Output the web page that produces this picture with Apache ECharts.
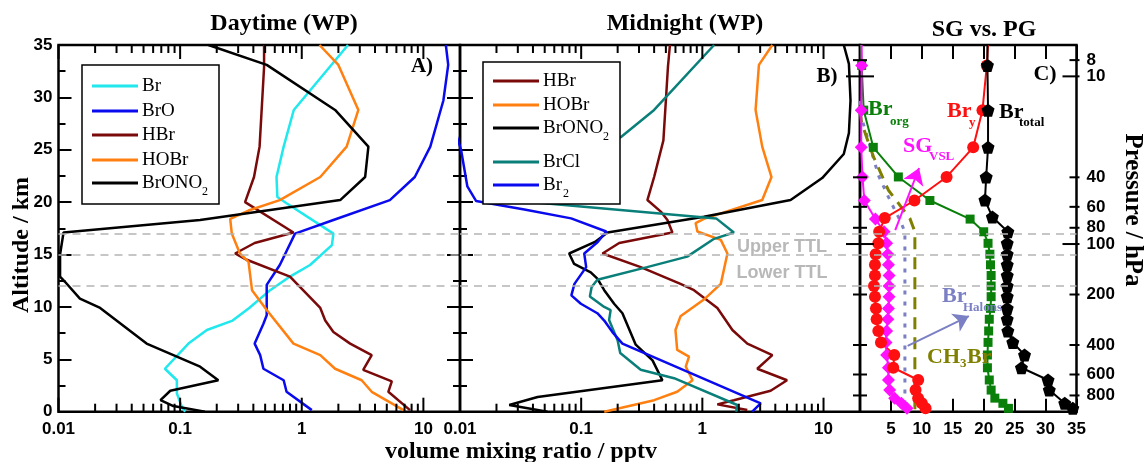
<!DOCTYPE html>
<html><head><meta charset="utf-8">
<script src="https://cdn.jsdelivr.net/npm/echarts@6/dist/echarts.min.js"></script>
<style>html,body{margin:0;padding:0;background:#fff}#c{width:1144px;height:462px}</style>
</head><body><div id="c"></div>
<script>
// ---------- Panel A: Daytime (WP)  [value pptv, altitude km] ----------
const dayBr = [[2.4,35],[0.86,28.8],[0.71,25.3],[0.62,22.4],[0.63,20.5],[0.75,19.9],[1.82,17.0],[1.77,15.9],[1.17,14.0],[0.80,12.9],[0.55,11.6],[0.37,9.9],[0.27,8.7],[0.166,7.8],[0.117,6.5],[0.075,4.1],[0.094,3.0],[0.094,1.75],[0.103,0.5],[0.11,0]];
const dayBrO = [[15.3,35],[16,33.1],[14.6,29.7],[11.4,25.3],[8.5,22.4],[5.3,20.2],[1.82,18.3],[0.88,17.0],[0.66,14.0],[0.515,12.1],[0.515,9.2],[0.484,8.4],[0.41,6.5],[0.455,5.4],[0.484,4.1],[0.71,3.0],[0.75,1.9],[1.21,0.15]];
const dayHBr = [[0.49,35],[0.49,32.9],[0.45,25.3],[0.405,22.4],[0.342,20.0],[0.855,17.1],[0.41,16.1],[0.283,15.1],[0.353,14.5],[0.80,12.9],[1.42,9.9],[1.56,8.7],[1.82,7.6],[2.5,6.5],[3.76,5.4],[3.2,4.0],[5.5,2.9],[5.15,1.9],[7.76,0.15]];
const dayHOBr = [[1.4,35],[2.0,33.1],[2.92,28.8],[2.34,25.3],[1.42,22.4],[0.66,20.2],[0.365,19.2],[0.258,18.4],[0.266,17.0],[0.31,15.1],[0.365,14.3],[0.39,11.6],[0.515,9.7],[0.855,6.5],[1.42,5.4],[1.88,4.1],[3.11,3.0],[3.76,1.9],[6.86,0.15]];
const dayBrONO2 = [[0.171,35],[0.515,33.1],[1.88,28.8],[3.53,25.3],[3.32,22.4],[2.07,20.2],[0.146,18.3],[0.011,17.1],[0.0103,15],[0.0103,12.9],[0.0113,12.4],[0.015,10.8],[0.022,9.9],[0.053,6.5],[0.146,4.3],[0.206,3.0],[0.083,2.0],[0.069,1.1],[0.088,0.54],[0.16,0]];

// ---------- Panel B: Midnight (WP) ----------
const nightHBr = [[0.54,35],[0.52,32.9],[0.50,29.7],[0.477,25.9],[0.40,22.4],[0.352,20.2],[0.454,19.1],[0.515,18.3],[0.566,17.1],[0.206,16.1],[0.15,15.1],[0.31,13.8],[0.66,12.2],[0.853,11.6],[1.33,9.9],[1.77,7.8],[2.35,6.5],[3.78,5.4],[2.84,4.1],[5.0,3.0],[3.66,2.0],[1.82,1.1],[1.33,0.7],[2.35,0.16]];
const nightHOBr = [[3.78,35],[2.93,33.1],[2.75,28.8],[3.12,25.3],[3.72,22.4],[3.12,20.2],[1.03,18.4],[0.88,18.0],[0.91,17.2],[1.42,16.4],[1.61,15.1],[1.42,12.2],[1.03,10.7],[0.66,9.1],[0.60,7.8],[0.62,5.9],[0.776,5.25],[0.73,4.3],[0.83,3.0],[0.62,1.9],[0.40,1.1],[0.155,0]];
const nightBrONO2 = [[14.7,35],[16.2,33.2],[16.7,29.7],[16.2,26.6],[14.7,24.6],[9.75,22.3],[5.35,20.2],[1.03,18.6],[0.165,17.1],[0.13,16.2],[0.0796,15.1],[0.0875,14.1],[0.12,13.3],[0.136,12.7],[0.155,11.6],[0.187,10.3],[0.219,9.4],[0.282,6.4],[0.388,4.9],[0.468,3.0],[0.0437,1.4],[0.0255,0.64],[0.0528,0]];
const nightBrCl = [[1.25,35],[0.40,28.8],[0.212,26.2],[0.02,20.3],[1.3,18.45],[1.82,17.1],[1.25,16.5],[0.75,14.8],[0.35,13.8],[0.136,12.6],[0.122,11.9],[0.118,11.0],[0.155,10.0],[0.175,9.7],[0.17,8.75],[0.2,6.8],[0.21,5.6],[0.31,4.0],[0.584,3.2],[1.94,0.64],[1.9,0]];
const nightBr2 = [[0.009,27],[0.0102,25],[0.0115,21.5],[0.0136,20.1],[0.0155,20.0],[0.034,19.3],[0.0826,18.45],[0.161,17.2],[0.137,16.2],[0.106,15.1],[0.11,13.8],[0.088,12.2],[0.083,11.1],[0.0994,10.3],[0.136,9.4],[0.155,8.7],[0.181,7.6],[0.219,6.5],[3.03,0.8],[2.58,0]];

// ---------- Panel C: SG vs. PG  [value pptv, pressure hPa] ----------
const brTotal = [[20.6,6.5],[20.6,8.6],[20.7,15.9],[20.7,26.5],[20.4,39.8],[20.2,54.7],[21.4,69],[23.9,84.5],[23.8,99],[23.8,115],[23.8,133],[23.8,154],[23.8,178],[23.8,206],[23.8,242],[23.8,281],[23.9,330],[24.7,386],[26.6,459],[26.1,547],[30.4,647],[30.6,743],[33.1,891],[34.4,955]];
const brY = [[20.7,6.5],[20.5,8.6],[19.8,15.9],[18.3,26.5],[14.0,39.8],[8.8,55],[4.0,70],[3.1,84.5],[2.96,99],[2.53,115],[2.42,133],[2.42,154],[2.26,178],[2.42,206],[2.58,242],[2.69,281],[2.96,330],[3.39,386],[5.54,459],[5.38,547],[9.41,647],[8.98,743],[9.4,830],[10.0,891],[10.6,955]];
const brOrg = [[0.15,6.5],[0.27,8.6],[0.6,15.9],[2.15,26.5],[6.2,39.8],[11.3,55],[17.8,71],[20.0,84.5],[20.7,99],[21.0,115],[21.1,133],[21.2,154],[21.2,178],[21.2,206],[21.1,242],[20.9,281],[20.8,330],[20.7,386],[20.6,459],[20.6,547],[20.9,647],[21.2,743],[21.8,830],[23.1,891],[24.0,955]];
const sgVSL = [[0.27,6.5],[0.27,8.6],[0.2,15.9],[0.2,26.5],[0.4,39.8],[0.7,55],[2.5,71],[3.9,84.5],[4.3,99],[4.5,115],[4.6,133],[4.7,154],[4.7,178],[4.7,206],[4.6,242],[4.5,281],[4.3,330],[4.2,386],[4.3,459],[4.6,547],[4.6,647],[4.8,743],[5.6,830],[6.7,891],[7.6,955]];
const brHalons = [[0,14],[0.27,17.8],[1.34,24],[2.96,38.8],[4.57,52.2],[6.45,72],[7.26,84.5],[7.26,1000]];
const ch3Br = [[0,16],[0.27,19],[2.15,30],[4.57,47.6],[8.06,70.3],[8.87,84.5],[8.87,1000]];

// ---------- ticks / reference levels ----------
const altTickLabels = [0,5,10,15,20,25,30,35];
const logTicks = [0.01,0.02,0.03,0.04,0.05,0.06,0.07,0.08,0.09,0.1,0.2,0.3,0.4,0.5,0.6,0.7,0.8,0.9,1,2,3,4,5,6,7,8,9,10];
const pressureTicks = [8,10,40,60,80,100,200,400,600,800];
const ttlAltitudes = [17,15,12];

const SANS = '"Liberation Sans", Arial, sans-serif';
const SERIF = '"Liberation Serif", "Times New Roman", serif';
const TOP = 45, H = 366.7;

const chart = echarts.init(document.getElementById('c'), null, {renderer: 'canvas'});

const tickLbl = {fontSize: 17, fontWeight: 'bold', fontFamily: SANS, color: '#000'};
function logAxis(grid) {
  return {type: 'log', logBase: 10, gridIndex: grid, min: 0.01, max: 20,
    axisLine: {show: false}, axisTick: {show: false}, splitLine: {show: false}, minorTick: {show: false},
    axisLabel: Object.assign({margin: 9, showMaxLabel: false,
      formatter: v => { const r = parseFloat((+v).toPrecision(3)); return r > 10 ? '' : String(r); }}, tickLbl)};
}
function altAxis(grid, pos, labels) {
  return {type: 'value', gridIndex: grid, position: pos, min: 0, max: 35, interval: 5,
    axisLine: {show: false}, splitLine: {show: false},
    axisTick: {show: true, inside: true, length: 13, lineStyle: {color: '#000', width: 2}},
    minorTick: {show: true, splitNumber: 2, length: 7, lineStyle: {color: '#000', width: 2}},
    axisLabel: Object.assign({show: labels, margin: 6}, tickLbl)};
}

function lineS(name, data, color, xi, yi, extra) {
  return Object.assign({type: 'line', name, data, xAxisIndex: xi, yAxisIndex: yi,
    symbol: 'none', showSymbol: false, clip: true, animation: false, silent: true,
    lineStyle: {color, width: 2.5}, itemStyle: {color}, z: 3}, extra || {});
}
function markerS(name, data, color, xi, yi, symbol, size, extra) {
  const d = data.map((p, i) => i === 0 ? {value: p, symbol: 'none'} : p);
  return Object.assign({type: 'line', name, data: d, xAxisIndex: xi, yAxisIndex: yi,
    symbol, symbolSize: size, showSymbol: true, clip: true, animation: false, silent: true,
    lineStyle: {color, width: 2}, itemStyle: {color}, z: 4}, extra || {});
}
function ttlMark() {
  return {silent: true, symbol: 'none', animation: false, label: {show: false},
    lineStyle: {color: '#b4b4b4', type: [8, 6], width: 1.5},
    data: ttlAltitudes.map(a => ({yAxis: a}))};
}

function logTickItem(params, api) {
  const v = api.value(0);
  const b = api.coord([v, 0]), t = api.coord([v, 35]);
  const lg = Math.log10(v);
  const major = Math.abs(lg - Math.round(lg)) < 1e-6;
  const L = major ? 14 : 8;
  const st = {stroke: '#000', lineWidth: 2};
  return {type: 'group', children: [
    {type: 'line', shape: {x1: b[0], y1: b[1], x2: b[0], y2: b[1] - L}, style: st},
    {type: 'line', shape: {x1: t[0], y1: t[1], x2: t[0], y2: t[1] + L}, style: st}
  ]};
}
function presTickItem(params, api) {
  const p = api.value(1);
  const l = api.coord([0, p]), r = api.coord([35, p]);
  const major = (p === 10 || p === 100);
  const L = major ? 14 : 7;
  const st = {stroke: '#000', lineWidth: 2};
  return {type: 'group', children: [
    {type: 'line', shape: {x1: l[0] - L, y1: l[1], x2: l[0] + L, y2: l[1]}, style: st},
    {type: 'line', shape: {x1: r[0] - L, y1: r[1], x2: r[0] + 3, y2: r[1]}, style: st},
    {type: 'text', style: {x: r[0] + 10, y: r[1], text: String(p), font: 'bold 17px ' + SANS, fill: '#000',
      align: 'left', verticalAlign: 'middle', textAlign: 'left', textVerticalAlign: 'middle'}}
  ]};
}

function T(x, y, text, font, fill, align, rot) {
  return {type: 'text', x, y, rotation: rot || 0, z: 120, silent: true,
    style: {x: 0, y: 0, text, font, fill: fill || '#000', align: align || 'center', verticalAlign: 'middle',
      textAlign: align || 'center', textVerticalAlign: 'middle'}};
}
function L(x1, y1, x2, y2, color, w) {
  return {type: 'line', z: 120, silent: true, shape: {x1, y1, x2, y2}, style: {stroke: color, lineWidth: w || 3}};
}
const legFont = '19px ' + SERIF, legSub = '12px ' + SERIF;
function legend(x, y, w, h, items) {
  const els = [{type: 'rect', z: 110, silent: true, shape: {x, y, width: w, height: h}, style: {fill: '#fff', stroke: '#000', lineWidth: 1.5}}];
  items.forEach(it => {
    els.push(L(x + 10, it.y, x + 56, it.y, it.color, 3));
    els.push(T(x + 60, it.y, it.text, legFont, '#000', 'left'));
    if (it.sub) els.push(T(x + 60 + it.subDx, it.y + 9, it.sub, legSub, '#000', 'left'));
  });
  return els;
}
const bigB = 'bold 22px ' + SERIF, subB = 'bold 13px ' + SERIF;

const graphic = [].concat(
  legend(82, 65, 137, 139, [
    {y: 86, color: '#20e8ec', text: 'Br'},
    {y: 111, color: '#0a0aee', text: 'BrO'},
    {y: 135, color: '#7a0a0a', text: 'HBr'},
    {y: 160, color: '#ff8010', text: 'HOBr'},
    {y: 183, color: '#000', text: 'BrONO', sub: '2', subDx: 60}
  ]),
  legend(483, 62, 137, 142, [
    {y: 81, color: '#7a0a0a', text: 'HBr'},
    {y: 105, color: '#ff8010', text: 'HOBr'},
    {y: 128, color: '#000', text: 'BrONO', sub: '2', subDx: 60},
    {y: 162, color: '#0a7f7a', text: 'BrCl'},
    {y: 185, color: '#0a0aee', text: 'Br', sub: '2', subDx: 20}
  ]),
  [
    T(284, 24, 'Daytime (WP)', 'bold 24px ' + SERIF),
    T(685, 24, 'Midnight (WP)', 'bold 24px ' + SERIF),
    T(984, 30, 'SG vs. PG', 'bold 24px ' + SERIF),
    T(521, 452, 'volume mixing ratio / pptv', 'bold 24px ' + SERIF),
    T(22, 245, 'Altitude / km', 'bold 24px ' + SERIF, '#000', 'center', Math.PI / 2),
    T(1132, 210, 'Pressure / hPa', 'bold 25px ' + SERIF, '#000', 'center', -Math.PI / 2),
    T(422, 67, 'A)', 'bold 21px ' + SERIF),
    T(827, 77, 'B)', 'bold 21px ' + SERIF),
    T(1045, 74, 'C)', 'bold 22px ' + SERIF),
    T(782, 247, 'Upper TTL', 'bold 18px ' + SANS, '#b8b8b8'),
    T(782, 273, 'Lower TTL', 'bold 18px ' + SANS, '#b8b8b8'),
    T(868, 109, 'Br', bigB, '#0a800a', 'left'), T(890, 122, 'org', subB, '#0a800a', 'left'),
    T(947, 111, 'Br', bigB, '#ff1010', 'left'), T(969, 123, 'y', subB, '#ff1010', 'left'),
    T(999, 112, 'Br', bigB, '#000', 'left'), T(1019, 123, 'total', subB, '#000', 'left'),
    T(903, 146, 'SG', bigB, '#ff10ff', 'left'), T(929, 157, 'VSL', subB, '#ff10ff', 'left'),
    T(942, 296, 'Br', bigB, '#7b7fc4', 'left'), T(963, 308, 'Halons', subB, '#7b7fc4', 'left'),
    T(927, 357, 'CH', bigB, '#808000', 'left'), T(960, 364, '3', subB, '#808000', 'left'), T(967, 357, 'Br', bigB, '#808000', 'left')
  ]
);

const pentagon = 'path://M0,-10L9.51,-3.09L5.88,8.09L-5.88,8.09L-9.51,-3.09Z';

const option = {
  backgroundColor: '#fff',
  animation: false,
  grid: [
    {left: 58.5, top: TOP, width: 401.5, height: H, show: true, borderColor: '#000', borderWidth: 2.5, backgroundColor: 'transparent', containLabel: false, outerBoundsMode: 'none'},
    {left: 460, top: TOP, width: 400, height: H, show: true, borderColor: '#000', borderWidth: 2.5, backgroundColor: 'transparent', containLabel: false, outerBoundsMode: 'none'},
    {left: 860, top: TOP, width: 216.5, height: H, show: true, borderColor: '#000', borderWidth: 2.5, backgroundColor: 'transparent', containLabel: false, outerBoundsMode: 'none'}
  ],
  xAxis: [
    logAxis(0),
    logAxis(1),
    {type: 'value', gridIndex: 2, min: 0, max: 35, interval: 5, position: 'bottom',
      axisLine: {show: false}, splitLine: {show: false},
      axisTick: {show: true, inside: true, length: 13, lineStyle: {color: '#000', width: 2}},
      axisLabel: Object.assign({margin: 9, formatter: v => v === 0 ? '' : String(v)}, tickLbl)},
    {type: 'value', gridIndex: 2, min: 0, max: 35, interval: 5, position: 'top',
      axisLine: {show: false}, splitLine: {show: false},
      axisTick: {show: true, inside: true, length: 14, lineStyle: {color: '#000', width: 2}},
      axisLabel: {show: false}}
  ],
  yAxis: [
    altAxis(0, 'left', true),
    altAxis(0, 'right', false),
    altAxis(1, 'left', false),
    {type: 'log', gridIndex: 2, inverse: true, min: 6.5, max: 1000, show: false},
    {type: 'value', gridIndex: 2, min: 0, max: 35, show: false}
  ],
  graphic: {elements: graphic},
  series: [
    // panel A
    lineS('Br', dayBr, '#20e8ec', 0, 0, {markLine: ttlMark()}),
    lineS('BrO', dayBrO, '#0a0aee', 0, 0),
    lineS('HBr', dayHBr, '#7a0a0a', 0, 0),
    lineS('HOBr', dayHOBr, '#ff8010', 0, 0),
    lineS('BrONO2', dayBrONO2, '#000', 0, 0),
    {type: 'custom', xAxisIndex: 0, yAxisIndex: 0, data: logTicks.map(v => [v, 0]), renderItem: logTickItem, silent: true, clip: false, z: 6},
    // panel B
    lineS('HBr (night)', nightHBr, '#7a0a0a', 1, 2, {markLine: ttlMark()}),
    lineS('HOBr (night)', nightHOBr, '#ff8010', 1, 2),
    lineS('BrONO2 (night)', nightBrONO2, '#000', 1, 2),
    lineS('BrCl', nightBrCl, '#0a7f7a', 1, 2),
    lineS('Br2', nightBr2, '#0a0aee', 1, 2),
    {type: 'custom', xAxisIndex: 1, yAxisIndex: 2, data: logTicks.map(v => [v, 0]), renderItem: logTickItem, silent: true, clip: false, z: 6},
    // panel C
    {type: 'line', name: 'TTL', xAxisIndex: 2, yAxisIndex: 4, data: [], silent: true, markLine: ttlMark()},
    lineS('Br Halons', brHalons, '#7b7fc4', 2, 3, {lineStyle: {color: '#7b7fc4', width: 3, type: [4, 7]},
      markLine: {silent: true, symbol: ['none', 'arrow'], symbolSize: 15, label: {show: false}, animation: false,
        lineStyle: {color: '#7b7fc4', width: 2, type: 'solid'},
        data: [[{coord: [7.7, 405]}, {coord: [17.6, 269]}]]}}),
    lineS('CH3Br', ch3Br, '#808000', 2, 3, {lineStyle: {color: '#808000', width: 3, type: [12, 8]}}),
    markerS('Br org', brOrg, '#0a800a', 2, 3, 'rect', 9),
    markerS('SG VSL', sgVSL, '#ff10ff', 2, 3, 'diamond', 13, {
      markLine: {silent: true, symbol: ['none', 'arrow'], symbolSize: 16, label: {show: false}, animation: false,
        lineStyle: {color: '#ff10ff', width: 2, type: 'solid'},
        data: [[{coord: [5.7, 82.5]}, {coord: [9.55, 35.2]}]]}}),
    markerS('Br y', brY, '#ff1010', 2, 3, 'circle', 12),
    markerS('Br total', brTotal, '#000', 2, 3, pentagon, 13),
    {type: 'custom', xAxisIndex: 2, yAxisIndex: 3, data: pressureTicks.map(p => [0, p]), renderItem: presTickItem, silent: true, clip: false, z: 6}
  ]
};
chart.setOption(option);
</script></body></html>
